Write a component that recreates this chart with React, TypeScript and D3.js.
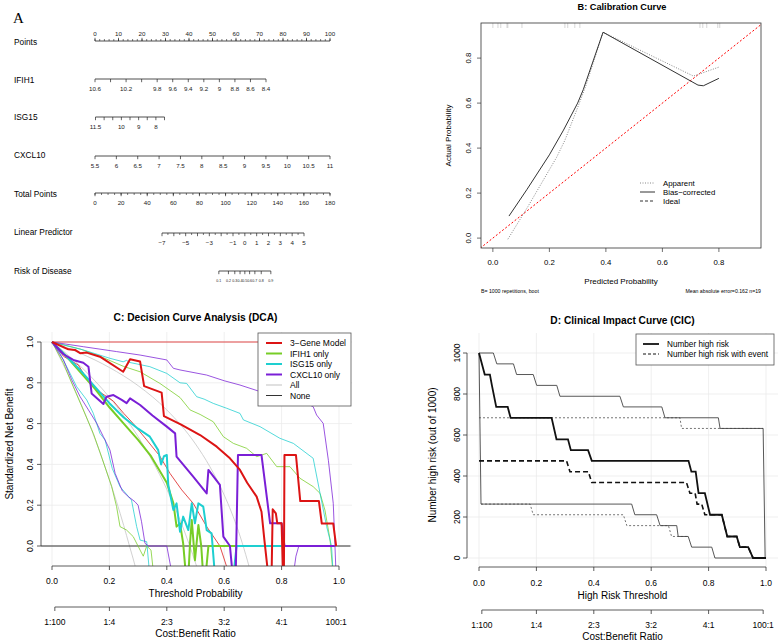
import * as d3 from 'd3'

type Pt = [number, number]

const FONT = '"Liberation Sans", Arial, Helvetica, sans-serif'

// ---------- A: nomogram ----------
const pointsLabels = [0, 10, 20, 30, 40, 50, 60, 70, 80, 90, 100]
const ifih1Ticks = [10.6, 10.4, 10.2, 10.0, 9.8, 9.6, 9.4, 9.2, 9.0, 8.8, 8.6, 8.4]
const ifih1Labels = ['10.6', '', '10.2', '', '9.8', '9.6', '9.4', '9.2', '9', '8.8', '8.6', '8.4']
const isg15Ticks = [11.5, 11, 10.5, 10, 9.5, 9, 8.5, 8, 7.5]
const isg15Labels = ['11.5', '', '', '10', '', '9', '', '8', '']
const cxcl10Ticks = [5.5, 6, 6.5, 7, 7.5, 8, 8.5, 9, 9.5, 10, 10.5, 11]
const cxcl10Labels = ['5.5', '6', '6.5', '7', '7.5', '8', '8.5', '9', '9.5', '10', '10.5', '11']
const totalLabels = [0, 20, 40, 60, 80, 100, 120, 140, 160, 180]
const lpTicks = [-7, -6, -5, -4, -3, -2, -1, 0, 1, 2, 3, 4, 5]
const lpLabels = ['−7', '', '−5', '', '−3', '', '−1', '0', '1', '2', '3', '4', '5']
const riskTicks = [0.1, 0.2, 0.3, 0.4, 0.5, 0.6, 0.7, 0.8, 0.9]
const riskLabels = ['0.1', '0.2', '0.3', '0.4', '0.5', '0.6', '0.7', '0.8', '0.9']

// ---------- B: calibration ----------
const calTicks = [0, 0.2, 0.4, 0.6, 0.8]
const apparent: Pt[] = [
  [0.053, -0.005], [0.124, 0.14], [0.226, 0.36], [0.255, 0.435], [0.3, 0.58], [0.33, 0.68],
  [0.39, 0.915], [0.71, 0.72], [0.8, 0.76],
]
const biasCorrected: Pt[] = [
  [0.057, 0.098], [0.12, 0.215], [0.2, 0.37], [0.25, 0.48], [0.3, 0.6], [0.32, 0.66],
  [0.39, 0.915], [0.726, 0.68], [0.745, 0.677], [0.8, 0.71],
]
const predictedRug = [0.0, 0.018, 0.028, 0.05, 0.053, 0.103, 0.255, 0.265, 0.29, 0.308, 0.733, 0.743, 0.757, 0.796, 0.803]

// ---------- C: decision curves ----------
const thresholdTicks = [0, 0.2, 0.4, 0.6, 0.8, 1]
const costBenefit = ['1:100', '1:4', '2:3', '3:2', '4:1', '100:1']
const dcaTicks = [0, 0.2, 0.4, 0.6, 0.8, 1]

const threeGene: Pt[] = [
  [0, 1], [0.057, 0.964], [0.08, 0.961], [0.098, 0.945], [0.121, 0.948], [0.167, 0.928], [0.248, 0.854],
  [0.272, 0.915], [0.307, 0.904], [0.321, 0.784], [0.382, 0.752], [0.39, 0.637], [0.45, 0.595],
  [0.516, 0.544], [0.574, 0.487], [0.62, 0.43], [0.655, 0.373], [0.68, 0.31], [0.713, 0.242],
  [0.73, 0.168], [0.74, 0.03], [0.754, -0.15], [0.765, -0.15], [0.769, 0.18], [0.78, 0.16],
  [0.785, 0.111], [0.8, 0.111], [0.805, -0.15], [0.808, -0.15], [0.81, 0.446], [0.85, 0.446],
  [0.865, 0.22], [0.93, 0.22], [0.94, 0.11], [0.98, 0.11], [0.99, 0],
]
const threeGeneUpper: Pt[] = [[0, 1], [0.99, 1]]
const threeGeneLower: Pt[] = [
  [0, 1], [0.04, 0.93], [0.092, 0.887], [0.127, 0.805], [0.156, 0.765], [0.214, 0.71], [0.25, 0.65],
  [0.283, 0.6], [0.33, 0.52], [0.376, 0.44], [0.411, 0.356], [0.452, 0.275], [0.492, 0.209],
  [0.539, 0.095], [0.585, 0.0], [0.62, -0.15],
]
const ifih1: Pt[] = [
  [0, 1], [0.05, 0.93], [0.1, 0.85], [0.15, 0.77], [0.2, 0.68], [0.25, 0.6], [0.3, 0.52], [0.345, 0.44],
  [0.4, 0.31], [0.423, 0.209], [0.434, 0.095], [0.446, 0.111], [0.457, 0.013], [0.467, -0.15],
  [0.475, -0.15], [0.481, 0.015], [0.487, 0.127], [0.498, -0.07], [0.51, 0.103], [0.52, 0],
  [0.527, -0.15], [0.535, -0.15], [0.545, 0], [0.64, 0],
]
const ifih1Upper: Pt[] = [
  [0, 1], [0.1, 0.965], [0.167, 0.93], [0.25, 0.88], [0.307, 0.854], [0.376, 0.797], [0.446, 0.728],
  [0.481, 0.667], [0.516, 0.645], [0.562, 0.609], [0.597, 0.536], [0.632, 0.503], [0.678, 0.479],
  [0.713, 0.438], [0.748, 0.454], [0.783, 0.389], [0.829, 0.389], [0.864, 0.332], [0.91, 0.291],
  [0.934, 0.258], [0.951, 0.176], [0.969, 0.029], [0.98, -0.15],
]
const ifih1Lower: Pt[] = [
  [0, 1], [0.04, 0.896], [0.074, 0.781], [0.109, 0.667], [0.144, 0.552], [0.167, 0.46], [0.208, 0.291],
  [0.225, 0.193], [0.237, 0.095], [0.26, 0.078], [0.283, 0.046], [0.307, -0.02], [0.318, -0.05],
  [0.33, 0], [0.345, -0.02], [0.355, -0.15],
]
const isg15: Pt[] = [
  [0, 1], [0.05, 0.93], [0.1, 0.86], [0.15, 0.78], [0.2, 0.7], [0.25, 0.63], [0.3, 0.575], [0.341, 0.536],
  [0.37, 0.47], [0.38, 0.4], [0.39, 0.44], [0.4, 0.446], [0.405, 0.3], [0.423, 0.176], [0.434, 0.209],
  [0.446, 0.07], [0.457, 0.144], [0.475, 0.078], [0.487, 0.209], [0.498, 0.111], [0.51, 0.209],
  [0.527, 0.193], [0.539, 0.078], [0.556, 0.062], [0.568, -0.15], [0.632, -0.15], [0.643, 0], [0.81, 0],
]
const isg15Upper: Pt[] = [
  [0, 1], [0.109, 0.961], [0.202, 0.92], [0.248, 0.903], [0.26, 0.91], [0.27, 0.9], [0.341, 0.879],
  [0.4, 0.846], [0.446, 0.8], [0.469, 0.797], [0.504, 0.732], [0.53, 0.72], [0.562, 0.699],
  [0.609, 0.675], [0.655, 0.65], [0.667, 0.618], [0.725, 0.585], [0.794, 0.528], [0.841, 0.503],
  [0.91, 0.43], [0.934, 0.258], [0.957, 0.095], [0.974, 0], [0.98, -0.15],
]
const isg15Lower: Pt[] = [
  [0, 1], [0.028, 0.944], [0.063, 0.846], [0.086, 0.781], [0.121, 0.716], [0.144, 0.65], [0.167, 0.552],
  [0.185, 0.52], [0.21, 0.38], [0.237, 0.291], [0.277, 0.225], [0.295, 0.095], [0.307, 0.029],
  [0.33, 0.021], [0.341, -0.15],
]
const cxcl10: Pt[] = [
  [0, 1], [0.04, 0.94], [0.074, 0.912], [0.109, 0.898], [0.127, 0.879], [0.138, 0.748], [0.179, 0.696],
  [0.19, 0.732], [0.214, 0.74], [0.243, 0.716], [0.26, 0.7], [0.272, 0.724], [0.307, 0.691],
  [0.35, 0.64], [0.4, 0.585], [0.429, 0.552], [0.434, 0.438], [0.492, 0.34], [0.539, 0.258],
  [0.545, 0.373], [0.585, 0.3], [0.597, 0.046], [0.62, 0], [0.63, -0.15], [0.64, -0.15],
  [0.648, 0.446], [0.73, 0.446], [0.76, 0.111], [0.8, 0.111], [0.81, 0], [0.985, 0],
]
const cxcl10Upper: Pt[] = [
  [0, 1], [0.109, 0.977], [0.225, 0.953], [0.307, 0.936], [0.4, 0.912], [0.423, 0.871], [0.446, 0.863],
  [0.539, 0.838], [0.6, 0.81], [0.655, 0.789], [0.736, 0.752], [0.783, 0.748], [0.85, 0.72],
  [0.91, 0.683], [0.922, 0.642], [0.945, 0.601], [0.963, 0.42], [0.98, 0.209], [0.986, 0], [0.99, -0.15],
]
const cxcl10Lower: Pt[] = [
  [0, 1], [0.04, 0.912], [0.069, 0.814], [0.098, 0.732], [0.127, 0.667], [0.156, 0.601], [0.179, 0.536],
  [0.202, 0.47], [0.22, 0.356], [0.245, 0.27], [0.266, 0.242], [0.289, 0.217], [0.3, 0.2], [0.312, 0.119],
  [0.324, 0.013], [0.336, 0], [0.4, 0], [0.42, -0.15], [0.84, -0.15], [0.85, -0.05], [0.86, 0], [0.98, 0],
]
// treat-all curves
const allMain: Pt[] = [
  [0, 1], [0.1, 0.944], [0.2, 0.875], [0.3, 0.786], [0.4, 0.667], [0.5, 0.5], [0.55, 0.389],
  [0.6, 0.25], [0.65, 0.071], [0.7, -0.167],
]
const allMid: Pt[] = [
  [0, 1], [0.1, 0.88], [0.2, 0.729], [0.3, 0.536], [0.35, 0.417], [0.4, 0.278], [0.45, 0.114],
  [0.48, 0], [0.5, -0.083], [0.52, -0.17],
]
const allLow: Pt[] = [
  [0, 1], [0.05, 0.858], [0.1, 0.7], [0.15, 0.524], [0.2, 0.325], [0.25, 0.1], [0.27, 0.0],
  [0.29, -0.1], [0.3, -0.157],
]
const noneLine: Pt[] = [[-0.04, 0], [1.04, 0]]

const RED = '#DC1414'
const GREEN = '#77CD26'
const CYAN = '#1ECFD0'
const PURPLE = '#7A1FD6'
const GRAY = '#CCCCCC'

const dcaLegend = [
  { label: '3−Gene Model', color: RED, width: 2 },
  { label: 'IFIH1 only', color: GREEN, width: 2 },
  { label: 'ISG15 only', color: CYAN, width: 2 },
  { label: 'CXCL10 only', color: PURPLE, width: 2 },
  { label: 'All', color: GRAY, width: 1.2 },
  { label: 'None', color: '#333', width: 1 },
]

// ---------- D: clinical impact ----------
const cicYTicks = [0, 200, 400, 600, 800, 1000]
const highRisk: Pt[] = [
  [0, 1000], [0.02, 895], [0.038, 895], [0.045, 842], [0.06, 737], [0.1, 737], [0.11, 684], [0.253, 684],
  [0.27, 579], [0.31, 579], [0.32, 526], [0.38, 526], [0.393, 474], [0.73, 474], [0.74, 421],
  [0.755, 421], [0.765, 316], [0.787, 316], [0.805, 211], [0.846, 211], [0.865, 105], [0.898, 105],
  [0.909, 53], [0.938, 53], [0.955, 0], [1, 0],
]
const highRiskUpper: Pt[] = [
  [0, 1000], [0.05, 1000], [0.062, 947], [0.12, 947], [0.131, 895], [0.189, 895], [0.201, 842],
  [0.271, 842], [0.282, 789], [0.491, 789], [0.503, 737], [0.637, 737], [0.648, 684], [0.834, 684],
  [0.84, 632], [0.99, 632], [0.997, 0], [1, 0],
]
const highRiskLower: Pt[] = [
  [0, 1000], [0.007, 263], [0.532, 263], [0.543, 211], [0.619, 211], [0.631, 158], [0.689, 158],
  [0.694, 105], [0.729, 105], [0.741, 53], [0.811, 53], [0.822, 0], [1, 0],
]
const withEvent: Pt[] = [
  [0, 474], [0.305, 474], [0.317, 421], [0.381, 421], [0.393, 368], [0.723, 368], [0.735, 316],
  [0.753, 316], [0.76, 263], [0.776, 263], [0.787, 211], [0.846, 211], [0.865, 105], [0.898, 105],
  [0.909, 53], [0.938, 53], [0.955, 0], [1, 0],
]
const withEventUpper: Pt[] = [[0, 684], [0.7, 684], [0.706, 632], [0.99, 632]]
const withEventLower: Pt[] = [
  [0.007, 263], [0.178, 263], [0.189, 211], [0.503, 211], [0.515, 158], [0.66, 158], [0.671, 105], [0.729, 105],
]

function ratioToThreshold(r: string) {
  const [a, b] = r.split(':').map(Number)
  return a / (a + b)
}

function NomoRow({
  label, labelY, lineY, scale, ticks, labels, minor = [], up = false, fontSize = 6.2,
}: {
  label: string; labelY: number; lineY: number; scale: (v: number) => number
  ticks: number[]; labels: string[]; minor?: number[]; up?: boolean; fontSize?: number
}) {
  const dir = up ? -1 : 1
  const xs = ticks.map(scale)
  return (
    <g>
      <text x={14} y={labelY} fontSize={8.3} dominantBaseline="central">{label}</text>
      <line x1={Math.min(...xs)} x2={Math.max(...xs)} y1={lineY} y2={lineY} stroke="#222" strokeWidth={0.8} />
      {minor.map((m) => (
        <line key={`m${m}`} x1={scale(m)} x2={scale(m)} y1={lineY} y2={lineY + dir * 2} stroke="#222" strokeWidth={0.6} />
      ))}
      {ticks.map((t, i) => (
        <g key={t}>
          <line x1={scale(t)} x2={scale(t)} y1={lineY} y2={lineY + dir * 3.2} stroke="#222" strokeWidth={0.7} />
          <text x={scale(t)} y={lineY + dir * (up ? 8 : 9.5)} fontSize={fontSize} textAnchor="middle" dominantBaseline="central" fill="#222">
            {labels[i]}
          </text>
        </g>
      ))}
    </g>
  )
}

function Nomogram() {
  const pts = d3.scaleLinear().domain([0, 100]).range([95, 330])
  const ifih = d3.scaleLinear().domain([10.6, 8.4]).range([95, 266])
  const isg = d3.scaleLinear().domain([11.5, 7.5]).range([95.5, 164.5])
  const cxcl = d3.scaleLinear().domain([5.5, 11]).range([95, 330])
  const total = d3.scaleLinear().domain([0, 180]).range([95, 330])
  const lp = d3.scaleLinear().domain([-7, 5]).range([162, 304])
  const risk = (p: number) => lp(Math.log(p / (1 - p)))
  return (
    <g>
      <text x={13} y={23} fontSize={15} fontFamily="'Liberation Serif', 'Times New Roman', serif">A</text>
      <NomoRow label="Points" labelY={42} lineY={41} scale={pts} up ticks={pointsLabels}
        labels={pointsLabels.map(String)} minor={d3.range(0, 101, 2)} />
      <NomoRow label="IFIH1" labelY={80} lineY={79} scale={ifih} ticks={ifih1Ticks} labels={ifih1Labels} />
      <NomoRow label="ISG15" labelY={117} lineY={117} scale={isg} ticks={isg15Ticks} labels={isg15Labels} />
      <NomoRow label="CXCL10" labelY={155} lineY={156} scale={cxcl} ticks={cxcl10Ticks} labels={cxcl10Labels} />
      <NomoRow label="Total Points" labelY={194} lineY={193} scale={total} ticks={totalLabels}
        labels={totalLabels.map(String)} minor={d3.range(0, 181, 5)} />
      <NomoRow label="Linear Predictor" labelY={232} lineY={233} scale={lp} ticks={lpTicks} labels={lpLabels}
        minor={d3.range(-6.5, 5, 1)} />
      <NomoRow label="Risk of Disease" labelY={271} lineY={271} scale={risk} ticks={riskTicks} labels={riskLabels}
        fontSize={3.6} />
    </g>
  )
}

function Calibration() {
  const x = d3.scaleLinear().domain([-0.042, 0.949]).range([481, 761])
  const y = d3.scaleLinear().domain([-0.044, 0.956]).range([248, 23])
  const line = d3.line<Pt>().x((d) => x(d[0])).y((d) => y(d[1]))
  return (
    <g>
      <defs>
        <clipPath id="clip-cal"><rect x={481} y={23} width={280} height={225} /></clipPath>
      </defs>
      <text x={622} y={6.5} fontSize={9.2} fontWeight="bold" textAnchor="middle" dominantBaseline="central">
        B: Calibration Curve
      </text>
      {predictedRug.map((p, i) => (
        <line key={i} x1={x(p)} x2={x(p)} y1={23} y2={28} stroke="#bbb" strokeWidth={0.6} />
      ))}
      <g clipPath="url(#clip-cal)">
        <path d={line([[-0.1, -0.1], [1.1, 1.1]]) ?? ''} fill="none" stroke="#F00" strokeWidth={1} strokeDasharray="2,2" />
        <path d={line(apparent) ?? ''} fill="none" stroke="#888" strokeWidth={1} strokeDasharray="1,1.5" />
        <path d={line(biasCorrected) ?? ''} fill="none" stroke="#333" strokeWidth={1} />
      </g>
      <rect x={481} y={23} width={280} height={225} fill="none" stroke="#333" strokeWidth={0.8} />
      {calTicks.map((t) => (
        <g key={t}>
          <line x1={x(t)} x2={x(t)} y1={248} y2={252} stroke="#333" strokeWidth={0.7} />
          <text x={x(t)} y={262} fontSize={7.8} textAnchor="middle" dominantBaseline="central">{t.toFixed(1)}</text>
          <line x1={481} x2={477} y1={y(t)} y2={y(t)} stroke="#333" strokeWidth={0.7} />
          <text transform={`translate(468,${y(t)}) rotate(-90)`} fontSize={7.8} textAnchor="middle" dominantBaseline="central">
            {t.toFixed(1)}
          </text>
        </g>
      ))}
      <text x={621} y={281} fontSize={8} textAnchor="middle" dominantBaseline="central">Predicted Probability</text>
      <text transform="translate(448,135.5) rotate(-90)" fontSize={8} textAnchor="middle" dominantBaseline="central">
        Actual Probability
      </text>
      <g fontSize={7.8}>
        <line x1={640} x2={655} y1={183} y2={183} stroke="#888" strokeDasharray="1,1.5" />
        <text x={663} y={183} dominantBaseline="central">Apparent</text>
        <line x1={640} x2={655} y1={192} y2={192} stroke="#333" />
        <text x={663} y={192} dominantBaseline="central">Bias−corrected</text>
        <line x1={640} x2={655} y1={201} y2={201} stroke="#333" strokeDasharray="3,2" />
        <text x={663} y={201} dominantBaseline="central">Ideal</text>
      </g>
      <text x={481} y={291} fontSize={5.2} dominantBaseline="central">B= 1000 repetitions, boot</text>
      <text x={761} y={291} fontSize={5.2} textAnchor="end" dominantBaseline="central">Mean absolute error=0.162 n=19</text>
    </g>
  )
}

function CostBenefitAxis({ x, y, xMid }: { x: (v: number) => number; y: number; xMid: number }) {
  const pos = costBenefit.map((r) => x(ratioToThreshold(r)))
  return (
    <g>
      <line x1={pos[0]} x2={pos[pos.length - 1]} y1={y} y2={y} stroke="#333" strokeWidth={0.8} />
      {costBenefit.map((r, i) => (
        <g key={r}>
          <line x1={pos[i]} x2={pos[i]} y1={y} y2={y + 4} stroke="#333" strokeWidth={0.8} />
          <text x={pos[i]} y={y + 15} fontSize={8.5} textAnchor="middle" dominantBaseline="central">{r}</text>
        </g>
      ))}
      <text x={xMid} y={y + 26} fontSize={10} textAnchor="middle" dominantBaseline="central">Cost:Benefit Ratio</text>
    </g>
  )
}

function DecisionCurve() {
  const x = d3.scaleLinear().domain([0, 1]).range([52, 339])
  const y = d3.scaleLinear().domain([0, 1]).range([546, 342])
  const line = d3.line<Pt>().x((d) => x(d[0])).y((d) => y(d[1]))
  const smooth = d3.line<Pt>().x((d) => x(d[0])).y((d) => y(d[1])).curve(d3.curveMonotoneX)
  const left = 41, right = 352, top = 332, bottom = 566
  const thin = [
    { d: threeGeneUpper, c: RED }, { d: threeGeneLower, c: RED },
    { d: ifih1Upper, c: GREEN }, { d: ifih1Lower, c: GREEN },
    { d: isg15Upper, c: CYAN }, { d: isg15Lower, c: CYAN },
    { d: cxcl10Upper, c: PURPLE }, { d: cxcl10Lower, c: PURPLE },
  ]
  const thick = [
    { d: ifih1, c: GREEN }, { d: isg15, c: CYAN }, { d: cxcl10, c: PURPLE }, { d: threeGene, c: RED },
  ]
  return (
    <g>
      <defs>
        <clipPath id="clip-dca"><rect x={left} y={top} width={right - left} height={bottom - top} /></clipPath>
      </defs>
      <text x={195.5} y={317} fontSize={10.2} fontWeight="bold" textAnchor="middle" dominantBaseline="central">
        C: Decision Curve Analysis (DCA)
      </text>
      {thresholdTicks.map((t) => (
        <line key={`v${t}`} x1={x(t)} x2={x(t)} y1={top} y2={bottom} stroke="#EBEBEB" strokeWidth={0.8} />
      ))}
      {dcaTicks.map((t) => (
        <line key={`h${t}`} x1={left} x2={right} y1={y(t)} y2={y(t)} stroke="#EBEBEB" strokeWidth={0.8} />
      ))}
      <g clipPath="url(#clip-dca)" fill="none" strokeLinejoin="round">
        {[allMain, allMid, allLow].map((d, i) => (
          <path key={`a${i}`} d={smooth(d) ?? ''} stroke={GRAY} strokeWidth={0.9} />
        ))}
        <path d={line(noneLine) ?? ''} stroke="#333" strokeWidth={1} />
        {thin.map((s, i) => (
          <path key={`t${i}`} d={line(s.d) ?? ''} stroke={s.c} strokeWidth={0.9} opacity={0.85} />
        ))}
        {thick.map((s, i) => (
          <path key={`k${i}`} d={line(s.d) ?? ''} stroke={s.c} strokeWidth={2} />
        ))}
      </g>
      <line x1={left} x2={left} y1={y(0)} y2={y(1)} stroke="#333" strokeWidth={0.8} />
      {dcaTicks.map((t) => (
        <g key={t}>
          <line x1={left} x2={left - 4} y1={y(t)} y2={y(t)} stroke="#333" strokeWidth={0.8} />
          <text transform={`translate(30,${y(t)}) rotate(-90)`} fontSize={8.5} textAnchor="middle" dominantBaseline="central">
            {t.toFixed(1)}
          </text>
        </g>
      ))}
      <text transform="translate(9,444) rotate(-90)" fontSize={10} textAnchor="middle" dominantBaseline="central">
        Standardized Net Benefit
      </text>
      <line x1={x(0)} x2={x(1)} y1={bottom} y2={bottom} stroke="#333" strokeWidth={0.8} />
      {thresholdTicks.map((t) => (
        <g key={t}>
          <line x1={x(t)} x2={x(t)} y1={bottom} y2={bottom + 4} stroke="#333" strokeWidth={0.8} />
          <text x={x(t)} y={581} fontSize={8.5} textAnchor="middle" dominantBaseline="central">{t.toFixed(1)}</text>
        </g>
      ))}
      <text x={195.5} y={593} fontSize={10} textAnchor="middle" dominantBaseline="central">Threshold Probability</text>
      <CostBenefitAxis x={x} y={607} xMid={195.5} />
      <rect x={258} y={333} width={93} height={73} fill="#fff" stroke="#555" strokeWidth={0.8} />
      {dcaLegend.map((e, i) => (
        <g key={e.label}>
          <line x1={266} x2={282} y1={343 + i * 10.5} y2={343 + i * 10.5} stroke={e.color} strokeWidth={e.width} />
          <text x={290} y={343 + i * 10.5} fontSize={8.5} dominantBaseline="central">{e.label}</text>
        </g>
      ))}
    </g>
  )
}

function ClinicalImpact() {
  const x = d3.scaleLinear().domain([0, 1]).range([479, 766])
  const y = d3.scaleLinear().domain([0, 1000]).range([558, 353])
  const line = d3.line<Pt>().x((d) => x(d[0])).y((d) => y(d[1]))
  const left = 467, right = 778, top = 333, bottom = 567
  return (
    <g>
      <defs>
        <clipPath id="clip-cic"><rect x={left} y={top} width={right - left} height={bottom - top} /></clipPath>
      </defs>
      <text x={622.5} y={320} fontSize={10.2} fontWeight="bold" textAnchor="middle" dominantBaseline="central">
        D: Clinical Impact Curve (CIC)
      </text>
      {thresholdTicks.map((t) => (
        <line key={`v${t}`} x1={x(t)} x2={x(t)} y1={top} y2={bottom} stroke="#EBEBEB" strokeWidth={0.8} />
      ))}
      {cicYTicks.map((t) => (
        <line key={`h${t}`} x1={left} x2={right} y1={y(t)} y2={y(t)} stroke="#EBEBEB" strokeWidth={0.8} />
      ))}
      <g clipPath="url(#clip-cic)" fill="none">
        <path d={line(withEventUpper) ?? ''} stroke="#666" strokeWidth={0.9} strokeDasharray="2,2" />
        <path d={line(withEventLower) ?? ''} stroke="#666" strokeWidth={0.9} strokeDasharray="2,2" />
        <path d={line(highRiskUpper) ?? ''} stroke="#444" strokeWidth={0.9} />
        <path d={line(highRiskLower) ?? ''} stroke="#444" strokeWidth={0.9} />
        <path d={line(highRisk) ?? ''} stroke="#111" strokeWidth={1.8} />
        <path d={line(withEvent) ?? ''} stroke="#111" strokeWidth={1.6} strokeDasharray="5,3" />
      </g>
      <line x1={left} x2={left} y1={y(0)} y2={y(1000)} stroke="#333" strokeWidth={0.8} />
      {cicYTicks.map((t) => (
        <g key={t}>
          <line x1={left} x2={left - 4} y1={y(t)} y2={y(t)} stroke="#333" strokeWidth={0.8} />
          <text transform={`translate(457,${y(t)}) rotate(-90)`} fontSize={8.5} textAnchor="middle" dominantBaseline="central">
            {t}
          </text>
        </g>
      ))}
      <text transform="translate(432,455) rotate(-90)" fontSize={10} textAnchor="middle" dominantBaseline="central">
        Number high risk (out of 1000)
      </text>
      <line x1={x(0)} x2={x(1)} y1={bottom} y2={bottom} stroke="#333" strokeWidth={0.8} />
      {thresholdTicks.map((t) => (
        <g key={t}>
          <line x1={x(t)} x2={x(t)} y1={bottom} y2={bottom + 4} stroke="#333" strokeWidth={0.8} />
          <text x={x(t)} y={583} fontSize={8.5} textAnchor="middle" dominantBaseline="central">{t.toFixed(1)}</text>
        </g>
      ))}
      <text x={622.5} y={595} fontSize={10} textAnchor="middle" dominantBaseline="central">High Risk Threshold</text>
      <CostBenefitAxis x={x} y={610} xMid={622.5} />
      <rect x={636} y={334} width={138} height={31} fill="#fff" stroke="#555" strokeWidth={0.8} />
      <line x1={643} x2={659} y1={344} y2={344} stroke="#111" strokeWidth={1.8} />
      <text x={667} y={344} fontSize={8.2} dominantBaseline="central">Number high risk</text>
      <line x1={643} x2={659} y1={354} y2={354} stroke="#111" strokeWidth={1} strokeDasharray="3,2" />
      <text x={667} y={354} fontSize={8.2} dominantBaseline="central">Number high risk with event</text>
    </g>
  )
}

export default function App() {
  return (
    <svg
      width={778}
      height={640}
      viewBox="0 0 778 640"
      style={{ position: 'absolute', left: 0, top: 0, background: '#fff' }}
      fontFamily={FONT}
    >
      <rect width={778} height={640} fill="#fff" />
      <Nomogram />
      <Calibration />
      <DecisionCurve />
      <ClinicalImpact />
    </svg>
  )
}
